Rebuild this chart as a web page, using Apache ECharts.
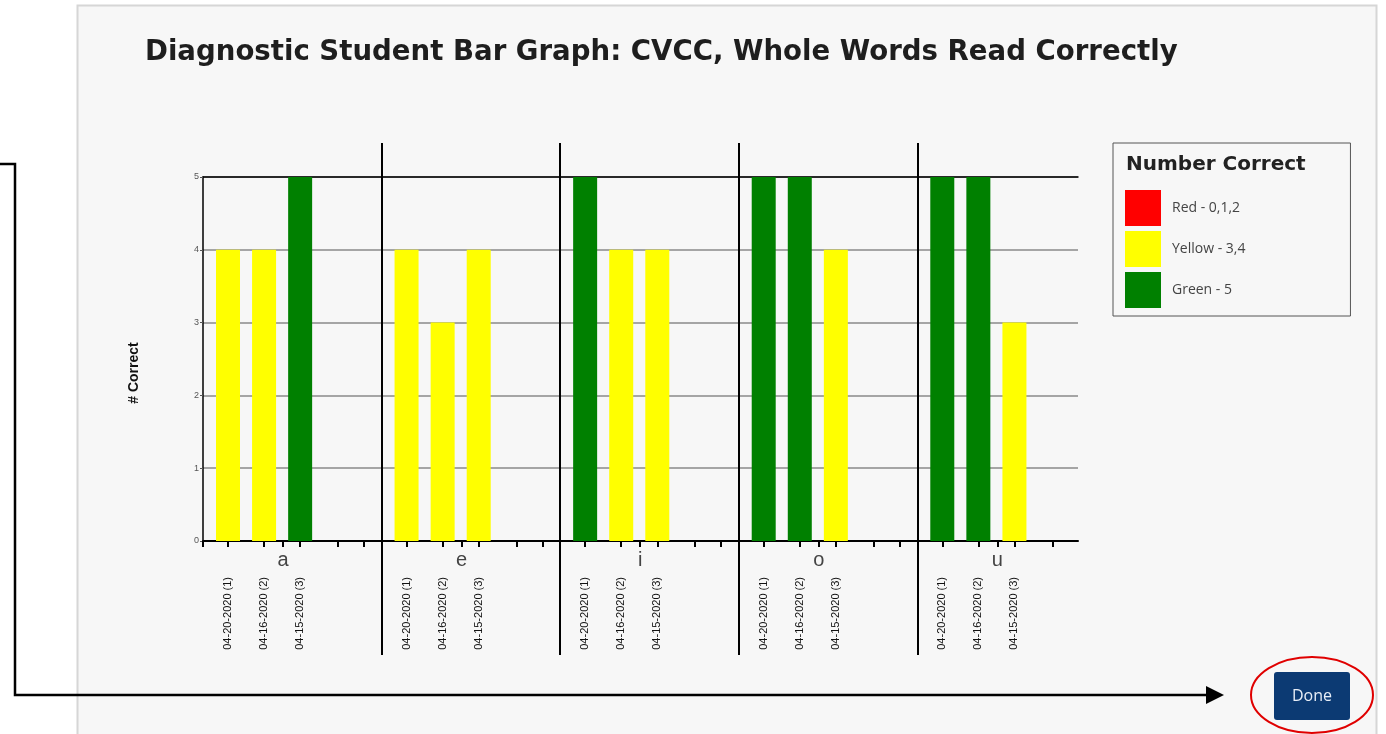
<!DOCTYPE html>
<html>
<head>
<meta charset="utf-8">
<script src="https://cdn.jsdelivr.net/npm/echarts@6/dist/echarts.min.js"></script>
<style>
html,body{margin:0;padding:0;background:#fff;}
#chart{width:1386px;height:734px;}
</style>
</head>
<body>
<div id="chart"></div>
<script>
// ---------- data ----------
const letters = ['a', 'e', 'i', 'o', 'u'];
const dates = ['04-20-2020 (1)', '04-16-2020 (2)', '04-15-2020 (3)'];
const aScores = [4, 4, 5];
const eScores = [4, 3, 4];
const iScores = [5, 4, 4];
const oScores = [5, 5, 4];
const uScores = [5, 5, 3];
const bandNames = ['Red - 0,1,2', 'Yellow - 3,4', 'Green - 5'];
const bandColors = ['#ff0000', '#ffff00', '#008000'];
const titleText = 'Diagnostic Student Bar Graph: CVCC, Whole Words Read Correctly';
const legendTitle = 'Number Correct';
const yName = '# Correct';

// ---------- layout (positions on x value axis) ----------
const scoresByLetter = [aScores, eScores, iScores, oScores, uScores];
const GROUP = 5, BAR0 = 0.7, STEP = 1.01, LETTER_OFF = 2.24, XMAX = 24.5;
const tickOffsets = [0, 0.7, 1.71, 2.24, 2.72, 3.78, 4.51];

function band(v) { return v <= 2 ? 0 : (v <= 4 ? 1 : 2); }

const barCenters = [], barDateIdx = [];
const seriesData = [[], [], []];
letters.forEach((l, gi) => {
  scoresByLetter[gi].forEach((v, di) => {
    const x = +(gi * GROUP + BAR0 + di * STEP).toFixed(3);
    barCenters.push(x); barDateIdx.push(di);
    seriesData[band(v)].push([x, v]);
  });
});
const letterPos = letters.map((l, gi) => gi * GROUP + LETTER_OFF);
const tickPos = [];
letters.forEach((l, gi) => tickOffsets.forEach(o => {
  const t = +(gi * GROUP + o).toFixed(3);
  if (t <= XMAX + 1e-6) tickPos.push(t);
}));

const FONT = '"Liberation Sans", Arial, sans-serif';
const UI = '"Open Sans", "Noto Sans", sans-serif';
const HEAD = '"DejaVu Sans", "Open Sans", sans-serif';

const chart = echarts.init(document.getElementById('chart'));
chart.setOption({
  backgroundColor: '#ffffff',
  animation: false,
  title: [
    { text: titleText, left: 140, top: 34,
      textStyle: { fontFamily: HEAD, fontSize: 27.6, fontWeight: 'bold', color: '#1e1e1e' } },
    { text: legendTitle, left: 1121, top: 150,
      textStyle: { fontFamily: HEAD, fontSize: 20, fontWeight: 'bold', color: '#222' } }
  ],
  legend: {
    orient: 'vertical', left: 1113, top: 143,
    padding: [47, 105, 8, 12],
    itemWidth: 36, itemHeight: 36, itemGap: 5,
    icon: 'rect',
    borderColor: '#555', borderWidth: 1,
    backgroundColor: '#f7f7f7',
    selectedMode: false,
    textStyle: { fontFamily: UI, fontSize: 14, color: '#444', padding: [0, 0, 0, 6] },
    data: bandNames
  },
  grid: [
    { left: 203, right: 308, top: 177, bottom: 193, containLabel: false },
    { left: 203, right: 308, top: 143, bottom: 79, containLabel: false },
    { left: 203, right: 308, top: 177, bottom: 193, containLabel: false }
  ],
  xAxis: [
    { type: 'value', gridIndex: 0, position: 'bottom', min: 0, max: XMAX,
      axisLine: { show: true, onZero: false, lineStyle: { color: '#000', width: 2 } },
      axisTick: { show: true, customValues: tickPos, length: 6, lineStyle: { color: '#000', width: 2 } },
      axisLabel: { show: true, customValues: letterPos, margin: 9, fontFamily: FONT, fontSize: 20, color: '#444',
        formatter: v => letters[Math.round((v - LETTER_OFF) / GROUP)] },
      splitLine: { show: false } },
    { type: 'value', gridIndex: 0, position: 'top', min: 0, max: XMAX,
      axisLine: { show: true, onZero: false, lineStyle: { color: '#000', width: 1.5 } },
      axisTick: { show: false }, axisLabel: { show: false }, splitLine: { show: false } },
    { type: 'value', gridIndex: 1, min: 0, max: XMAX, interval: GROUP,
      axisLine: { show: false }, axisTick: { show: false }, axisLabel: { show: false },
      splitLine: { show: true, showMinLine: false, showMaxLine: false, lineStyle: { color: '#000', width: 2 } } },
    { type: 'value', gridIndex: 2, position: 'bottom', min: 0, max: XMAX,
      axisLine: { show: false }, axisTick: { show: false }, splitLine: { show: false },
      axisLabel: { show: true, customValues: barCenters, rotate: 90, margin: 36,
        fontFamily: FONT, fontSize: 11, color: '#111',
        formatter: v => dates[barDateIdx[barCenters.indexOf(v)]] } }
  ],
  yAxis: [
    { type: 'value', gridIndex: 0, min: 0, max: 5, interval: 1,
      name: yName, nameLocation: 'middle', nameGap: 62, nameRotate: 90,
      nameTextStyle: { fontFamily: FONT, fontSize: 14, fontWeight: 'bold', color: '#111', padding: [0, 28, 0, 0] },
      axisLine: { show: true, lineStyle: { color: '#000', width: 1.5 } },
      axisTick: { show: true, length: 3, lineStyle: { color: '#555' } },
      axisLabel: { margin: 4, fontFamily: FONT, fontSize: 9, color: '#555' },
      splitLine: { show: true, lineStyle: { color: '#8a8a8a', width: 1.5 } } },
    { type: 'value', gridIndex: 1, show: false, min: 0, max: 1 },
    { type: 'value', gridIndex: 2, show: false, min: 0, max: 1 }
  ],
  series: bandNames.map((n, i) => ({
    name: n, type: 'bar', xAxisIndex: 0, yAxisIndex: 0,
    barWidth: 24, barGap: '-100%',
    itemStyle: { color: bandColors[i] },
    data: seriesData[i], z: 3
  })),
  graphic: [
    { type: 'rect', z: -100, shape: { x: 77.5, y: 5.5, width: 1299, height: 740 },
      style: { fill: '#f7f7f7', stroke: '#d6d6d6', lineWidth: 2 } },
    { type: 'polyline', z: 100, shape: { points: [[0, 164], [15, 164], [15, 695], [1210, 695]] },
      style: { stroke: '#000', lineWidth: 2.5, fill: null } },
    { type: 'polygon', z: 100, shape: { points: [[1206, 686], [1224, 695], [1206, 704]] },
      style: { fill: '#000' } },
    { type: 'rect', z: 100, shape: { x: 1274, y: 672, width: 76, height: 48, r: 3 },
      style: { fill: '#0c3a73' } },
    { type: 'text', z: 101, x: 1312, y: 696,
      style: { text: 'Done', fill: '#e8eef7', font: '16px ' + UI, textAlign: 'center', textVerticalAlign: 'middle' } },
    { type: 'ellipse', z: 101, shape: { cx: 1312, cy: 695, rx: 61, ry: 38 },
      style: { stroke: '#e00000', lineWidth: 2, fill: null } }
  ]
});
</script>
</body>
</html>
